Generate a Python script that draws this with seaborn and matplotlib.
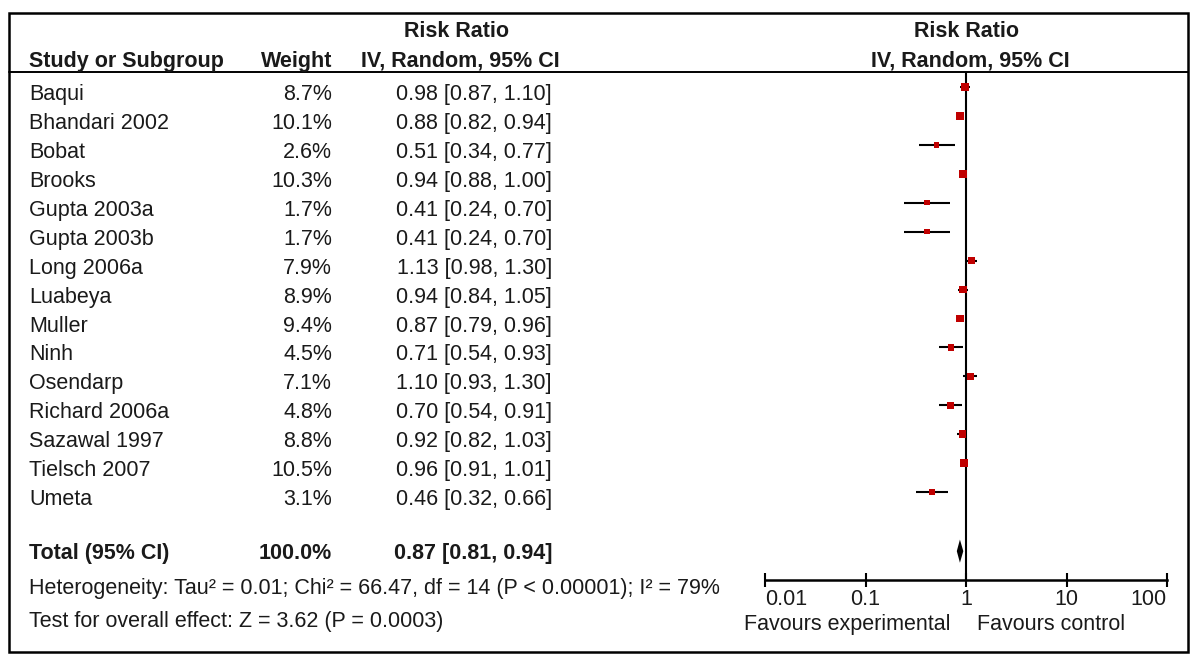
import matplotlib
matplotlib.use("Agg")
import matplotlib.pyplot as plt
import matplotlib.transforms as mtransforms
from matplotlib.patches import Rectangle
import pandas as pd
import seaborn as sns

studies = ["Baqui", "Bhandari 2002", "Bobat", "Brooks", "Gupta 2003a", "Gupta 2003b",
           "Long 2006a", "Luabeya", "Muller", "Ninh", "Osendarp", "Richard 2006a",
           "Sazawal 1997", "Tielsch 2007", "Umeta"]
weights = [8.7, 10.1, 2.6, 10.3, 1.7, 1.7, 7.9, 8.9, 9.4, 4.5, 7.1, 4.8, 8.8, 10.5, 3.1]
rr = [0.98, 0.88, 0.51, 0.94, 0.41, 0.41, 1.13, 0.94, 0.87, 0.71, 1.10, 0.70, 0.92, 0.96, 0.46]
ci_low = [0.87, 0.82, 0.34, 0.88, 0.24, 0.24, 0.98, 0.84, 0.79, 0.54, 0.93, 0.54, 0.82, 0.91, 0.32]
ci_high = [1.10, 0.94, 0.77, 1.00, 0.70, 0.70, 1.30, 1.05, 0.96, 0.93, 1.30, 0.91, 1.03, 1.01, 0.66]

total_weight = 100.0
total_rr, total_low, total_high = 0.87, 0.81, 0.94
heterogeneity = "Heterogeneity: Tau² = 0.01; Chi² = 66.47, df = 14 (P < 0.00001); I² = 79%"
overall_effect = "Test for overall effect: Z = 3.62 (P = 0.0003)"
xticks = [0.01, 0.1, 1, 10, 100]
xtick_labels = ["0.01", "0.1", "1", "10", "100"]

df = pd.DataFrame({"study": studies, "weight": weights, "rr": rr,
                   "low": ci_low, "high": ci_high})
df["row"] = range(len(df))
total_row = 16.04

sns.set_theme(style="white")
plt.rcParams["font.family"] = ["Liberation Sans", "DejaVu Sans"]
ink = "#1a1a1a"
fs = 15.5

W, H = 1200, 664
fig = plt.figure(figsize=(12, 6.64), dpi=100)

# pixel canvas for table text and frame
bg = fig.add_axes([0, 0, 1, 1])
bg.set_xlim(0, W)
bg.set_ylim(H, 0)
bg.axis("off")

# forest plot axes
ax = fig.add_axes([765 / W, 1 - 579.5 / H, 402 / W, (579.5 - 72) / H])
ax.patch.set_alpha(0)
ax.set_xscale("log")
ax.set_xlim(0.01, 100)
ax.set_ylim(17.02, -0.52)

ax.hlines(df["row"], df["low"], df["high"], color="black", lw=1.5, zorder=2)
sns.scatterplot(data=df, x="rr", y="row", size="weight", sizes=(14, 34), marker="s",
                color="#c00000", linewidth=0, legend=False, ax=ax, zorder=3)
ax.fill([total_low, total_rr, total_high, total_rr],
        [total_row, total_row - 0.4, total_row, total_row + 0.4],
        color="black", lw=0, zorder=3)
ax.axvline(1, color="black", lw=1.5, zorder=1)

for s in ["top", "left", "right"]:
    ax.spines[s].set_visible(False)
ax.spines["bottom"].set_linewidth(1.8)
ax.spines["bottom"].set_color("black")
ax.set_xticks(xticks)
ax.set_xticklabels(xtick_labels)
ax.minorticks_off()
ax.set_yticks([])
ax.set_xlabel("")
ax.set_ylabel("")
ax.tick_params(axis="x", direction="inout", length=9.5, width=1.5, color="black",
               bottom=True, labelsize=fs, labelcolor=ink, pad=2)
labels = ax.get_xticklabels()
labels[0].set_horizontalalignment("left")
labels[-1].set_horizontalalignment("right")

# frame and header rule
bg.add_patch(Rectangle((8.5, 13), 1179.5, 639, fill=False, lw=1.8, ec="black"))
bg.plot([8.5, 1188], [72, 72], color="black", lw=1.4)

hdr = dict(fontsize=fs, fontweight="bold", color=ink, va="baseline")
bg.text(457, 37, "Risk Ratio", ha="center", **hdr)
bg.text(29, 67, "Study or Subgroup", ha="left", **hdr)
bg.text(332, 67, "Weight", ha="right", **hdr)
bg.text(460, 67, "IV, Random, 95% CI", ha="center", **hdr)
bg.text(967, 37, "Risk Ratio", ha="center", **hdr)
bg.text(970, 67, "IV, Random, 95% CI", ha="center", **hdr)

trans = mtransforms.blended_transform_factory(bg.transData, ax.transData)
row_trans = mtransforms.offset_copy(trans, fig=fig, y=-13, units="dots")
body = dict(fontsize=fs, color=ink, va="baseline", transform=row_trans)
for _, r in df.iterrows():
    bg.text(29, r["row"], r["study"], ha="left", **body)
    bg.text(332, r["row"], f"{r['weight']:.1f}%", ha="right", **body)
    bg.text(552, r["row"], f"{r['rr']:.2f} [{r['low']:.2f}, {r['high']:.2f}]", ha="right", **body)

tot_trans = mtransforms.offset_copy(trans, fig=fig, y=-8, units="dots")
tot = dict(fontsize=fs, fontweight="bold", color=ink, va="baseline", transform=tot_trans)
bg.text(29, total_row, "Total (95% CI)", ha="left", **tot)
bg.text(332, total_row, f"{total_weight:.1f}%", ha="right", **tot)
bg.text(552, total_row, f"{total_rr:.2f} [{total_low:.2f}, {total_high:.2f}]", ha="right", **tot)

foot = dict(fontsize=fs, color=ink, va="baseline", ha="left")
bg.text(29, 594, heterogeneity, **foot)
bg.text(29, 627, overall_effect, **foot)

bg.text(950, 630, "Favours experimental", ha="right", va="baseline", fontsize=fs, color=ink)
bg.text(977, 630, "Favours control", ha="left", va="baseline", fontsize=fs, color=ink)

fig.savefig("out.png", dpi=100, facecolor="white")
